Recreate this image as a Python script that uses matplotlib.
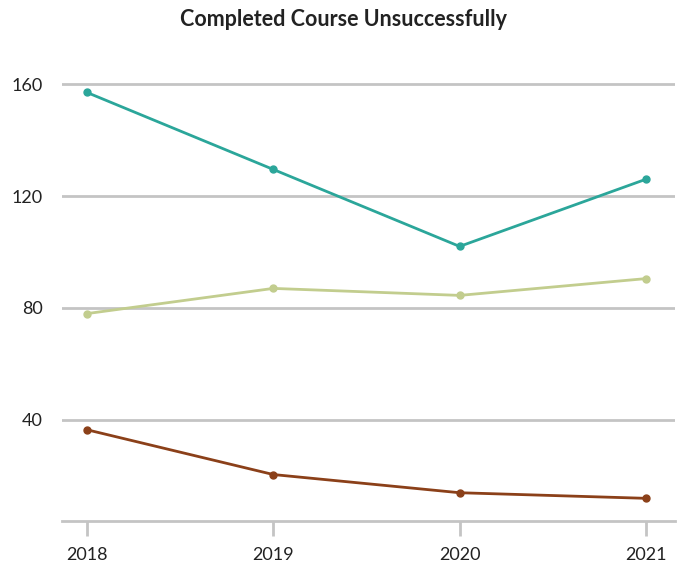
import matplotlib
matplotlib.use('Agg')
import matplotlib.pyplot as plt

years = [2018, 2019, 2020, 2021]
teal_vals = [157, 129.5, 102, 126]
green_vals = [78, 87, 84.5, 90.5]
brown_vals = [36.5, 20.5, 14, 12]
y_ticks = [40, 80, 120, 160]

plt.rcParams['font.family'] = ['Lato', 'DejaVu Sans']

fig = plt.figure(figsize=(6.85, 5.69), dpi=100)
ax = fig.add_axes([62/685, 48/569, 613/685, 461/569])

grid_c = '#c4c4c4'
for v in y_ticks:
    ax.axhline(v, color=grid_c, lw=2, zorder=1)

ax.plot(years, teal_vals, color='#2ba69a', lw=2, marker='o', ms=5, zorder=3)
ax.plot(years, green_vals, color='#c2cd8e', lw=2, marker='o', ms=5, zorder=3)
ax.plot(years, brown_vals, color='#8b4019', lw=2, marker='o', ms=5, zorder=3)

ax.set_xlim(2018 - 0.134, 2021 + 0.156)
ax.set_ylim(3.9, 168.6)
ax.set_xticks(years)
ax.set_xticklabels([str(y) for y in years])
ax.set_yticks(y_ticks)

for s in ['top', 'right', 'left']:
    ax.spines[s].set_visible(False)
ax.spines['bottom'].set_color(grid_c)
ax.spines['bottom'].set_linewidth(2)
ax.tick_params(axis='x', length=11, width=2, color=grid_c, pad=8, labelsize=13, labelcolor='#222222')
ax.tick_params(axis='y', length=0, pad=14, labelsize=13, labelcolor='#222222')

fig.text(344/685, 1 - 20/569, 'Completed Course Unsuccessfully', ha='center', va='center',
         fontsize=15.5, fontweight='bold', color='#222222')

fig.savefig('out.png', dpi=100)
